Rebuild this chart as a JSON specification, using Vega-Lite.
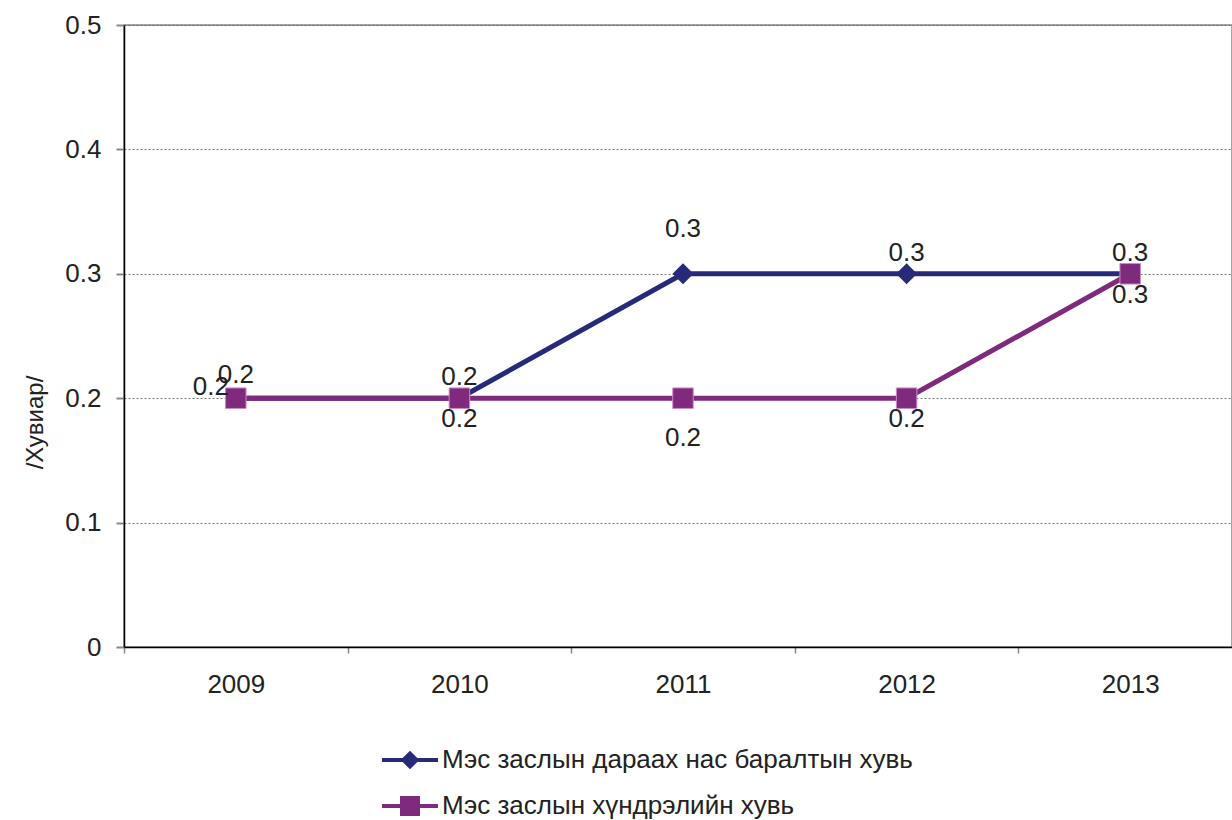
{
  "$schema": "https://vega.github.io/schema/vega-lite/v6.json",
  "autosize": "none",
  "width": 1108,
  "height": 622,
  "padding": {"left": 124, "top": 25, "right": 0, "bottom": 173},
  "background": "white",
  "config": {
    "font": "Liberation Sans",
    "view": {"stroke": "#888888", "strokeWidth": 1.5},
    "axis": {"labelFont": "Liberation Sans", "labelColor": "#222222", "titleFont": "Liberation Sans", "titleColor": "#222222"}
  },
  "data": {
    "values": [
      {"year": "2009", "series": "Мэс заслын дараах нас баралтын хувь", "value": 0.2},
      {"year": "2010", "series": "Мэс заслын дараах нас баралтын хувь", "value": 0.2},
      {"year": "2011", "series": "Мэс заслын дараах нас баралтын хувь", "value": 0.3},
      {"year": "2012", "series": "Мэс заслын дараах нас баралтын хувь", "value": 0.3},
      {"year": "2013", "series": "Мэс заслын дараах нас баралтын хувь", "value": 0.3},
      {"year": "2009", "series": "Мэс заслын хүндрэлийн хувь", "value": 0.2},
      {"year": "2010", "series": "Мэс заслын хүндрэлийн хувь", "value": 0.2},
      {"year": "2011", "series": "Мэс заслын хүндрэлийн хувь", "value": 0.2},
      {"year": "2012", "series": "Мэс заслын хүндрэлийн хувь", "value": 0.2},
      {"year": "2013", "series": "Мэс заслын хүндрэлийн хувь", "value": 0.3}
    ]
  },
  "encoding": {
    "x": {
      "field": "year", "type": "ordinal",
      "scale": {"type": "band", "paddingInner": 0, "paddingOuter": 0, "range": [0, 1118]},
      "axis": {
        "title": null, "labelAngle": 0, "labelFontSize": 26, "tickBand": "extent",
        "domainColor": "#000000", "domainWidth": 1.5, "tickColor": "#888888", "tickWidth": 1.5, "tickSize": 6,
        "labelPadding": 18, "grid": false
      }
    },
    "y": {
      "field": "value", "type": "quantitative",
      "scale": {"domain": [0, 0.5], "nice": false},
      "axis": {
        "title": "/Хувиар/", "titleFontSize": 24, "titleFontWeight": "normal",
        "titleX": -89, "titleY": 397, "titleAlign": "center", "titleBaseline": "middle", "titleAngle": -90,
        "values": [0, 0.1, 0.2, 0.3, 0.4, 0.5], "format": "~g",
        "labelFontSize": 26, "labelPadding": 15, "tickSize": 8, "tickColor": "#888888", "tickWidth": 2,
        "domainColor": "#000000", "domainWidth": 1.5,
        "grid": true, "gridColor": "#555555", "gridDash": [2, 2], "gridWidth": 0.8
      }
    },
    "color": {
      "field": "series", "type": "nominal",
      "scale": {"domain": ["Мэс заслын дараах нас баралтын хувь", "Мэс заслын хүндрэлийн хувь"], "range": ["#262A78", "#7F2A7D"]},
      "legend": {
        "title": null, "orient": "none", "legendX": 273, "legendY": 722, "direction": "vertical",
        "padding": 0, "symbolSize": 400, "symbolOffset": 0, "labelOffset": 19,
        "labelFontSize": 26, "labelColor": "#222222", "labelFont": "Liberation Sans", "rowPadding": 15, "labelLimit": 0,
        "symbolStrokeWidth": 4, "symbolType": "circle",
        "encode": {
          "symbols": {
            "update": {
              "shape": {"signal": "datum.value === 'Мэс заслын хүндрэлийн хувь' ? 'M-2.8,0L2.8,0M-0.8,-0.8L0.8,-0.8L0.8,0.8L-0.8,0.8Z' : 'M-2.8,0L2.8,0M-0.65,0L0,-0.65L0.65,0L0,0.65Z'"},
              "stroke": {"signal": "datum.value === 'Мэс заслын хүндрэлийн хувь' ? '#7F2A7D' : '#262A78'"},
              "fill": {"signal": "datum.value === 'Мэс заслын хүндрэлийн хувь' ? '#7F2A7D' : '#262A78'"},
              "strokeWidth": {"value": 4},
              "opacity": {"value": 1},
              "fillOpacity": {"value": 1},
              "strokeOpacity": {"value": 1}
            }
          }
        }
      }
    }
  },
  "layer": [
    {
      "mark": {"type": "line", "strokeWidth": 5}
    },
    {
      "mark": {"type": "point", "filled": true, "opacity": 1, "stroke": "#C98BC5", "strokeWidth": 1},
      "encoding": {
        "shape": {
          "field": "series", "type": "nominal",
          "scale": {"range": ["diamond", "square"]},
          "legend": null
        },
        "size": {
          "field": "series", "type": "nominal",
          "scale": {"range": [440, 420]},
          "legend": null
        },
        "strokeOpacity": {
          "field": "series", "type": "nominal",
          "scale": {"range": [0, 1]},
          "legend": null
        }
      }
    },
    {
      "transform": [{"filter": "datum.series === 'Мэс заслын дараах нас баралтын хувь' && (datum.year === '2010' || datum.year === '2012' || datum.year === '2013')"}],
      "mark": {"type": "text", "fontSize": 26, "dy": -21},
      "encoding": {"text": {"field": "value", "type": "quantitative", "format": ".1f"}, "color": {"value": "#222222"}}
    },
    {
      "transform": [{"filter": "datum.series === 'Мэс заслын дараах нас баралтын хувь' && datum.year === '2011'"}],
      "mark": {"type": "text", "fontSize": 26, "dy": -45},
      "encoding": {"text": {"field": "value", "type": "quantitative", "format": ".1f"}, "color": {"value": "#222222"}}
    },
    {
      "transform": [{"filter": "datum.series === 'Мэс заслын дараах нас баралтын хувь' && datum.year === '2009'"}],
      "mark": {"type": "text", "fontSize": 26, "dx": -25, "dy": -11},
      "encoding": {"text": {"field": "value", "type": "quantitative", "format": ".1f"}, "color": {"value": "#222222"}}
    },
    {
      "transform": [{"filter": "datum.series === 'Мэс заслын хүндрэлийн хувь' && (datum.year === '2010' || datum.year === '2012' || datum.year === '2013')"}],
      "mark": {"type": "text", "fontSize": 26, "dy": 21},
      "encoding": {"text": {"field": "value", "type": "quantitative", "format": ".1f"}, "color": {"value": "#222222"}}
    },
    {
      "transform": [{"filter": "datum.series === 'Мэс заслын хүндрэлийн хувь' && datum.year === '2011'"}],
      "mark": {"type": "text", "fontSize": 26, "dy": 40},
      "encoding": {"text": {"field": "value", "type": "quantitative", "format": ".1f"}, "color": {"value": "#222222"}}
    },
    {
      "transform": [{"filter": "datum.series === 'Мэс заслын хүндрэлийн хувь' && datum.year === '2009'"}],
      "mark": {"type": "text", "fontSize": 26, "dy": -23},
      "encoding": {"text": {"field": "value", "type": "quantitative", "format": ".1f"}, "color": {"value": "#222222"}}
    }
  ]
}
